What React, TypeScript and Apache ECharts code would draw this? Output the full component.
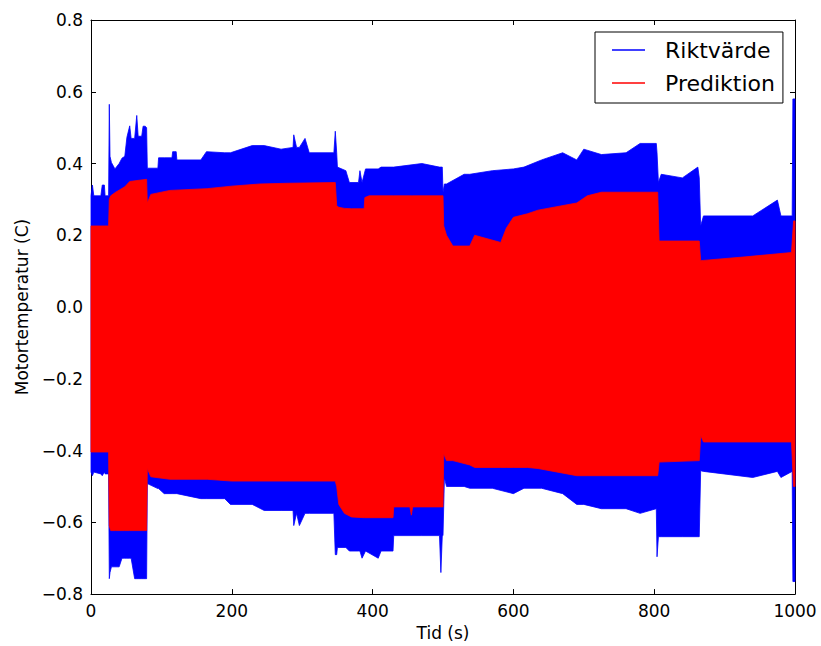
import React, { useEffect, useRef } from "react";
import * as echarts from "echarts";

// Riktvärde (blue) envelope: time, upper, lower
const riktTime = [0, 2, 4, 14, 16, 19, 20, 25, 26, 27, 29, 34, 40, 44, 48, 51, 55, 57, 62, 65, 67, 72, 74, 77, 79, 80, 95, 96, 104, 115, 116, 121, 122, 156, 164, 190, 198, 229, 246, 270, 287, 288, 292, 296, 304, 310, 345, 347, 349, 350, 362, 367, 380, 382, 385, 390, 408, 412, 429, 430, 470, 495, 497, 499, 500, 502, 505, 530, 538, 570, 600, 615, 640, 670, 690, 700, 725, 760, 780, 803, 804, 806, 810, 840, 862, 864, 866, 870, 940, 975, 980, 996, 997, 1000];
const riktHigh = [0.31, 0.34, 0.31, 0.31, 0.34, 0.34, 0.31, 0.31, 0.565, 0.42, 0.403, 0.385, 0.4, 0.415, 0.42, 0.473, 0.505, 0.47, 0.47, 0.534, 0.476, 0.476, 0.504, 0.504, 0.5, 0.387, 0.387, 0.416, 0.416, 0.416, 0.433, 0.433, 0.41, 0.41, 0.433, 0.43, 0.43, 0.45, 0.45, 0.44, 0.445, 0.48, 0.445, 0.445, 0.47, 0.43, 0.43, 0.49, 0.43, 0.39, 0.38, 0.347, 0.347, 0.38, 0.347, 0.385, 0.385, 0.39, 0.39, 0.39, 0.4, 0.39, 0.39, 0.39, 0.32, 0.343, 0.343, 0.37, 0.37, 0.38, 0.385, 0.39, 0.41, 0.43, 0.41, 0.44, 0.425, 0.43, 0.456, 0.456, 0.43, 0.347, 0.37, 0.36, 0.39, 0.36, 0.226, 0.254, 0.254, 0.298, 0.254, 0.254, 0.58, 0.58];
const riktLow = [-0.46, -0.47, -0.46, -0.465, -0.47, -0.46, -0.465, -0.465, -0.757, -0.74, -0.724, -0.724, -0.724, -0.7, -0.7, -0.7, -0.7, -0.7, -0.757, -0.757, -0.757, -0.757, -0.757, -0.757, -0.757, -0.492, -0.506, -0.506, -0.52, -0.52, -0.52, -0.52, -0.52, -0.534, -0.534, -0.534, -0.55, -0.55, -0.567, -0.567, -0.567, -0.609, -0.575, -0.609, -0.575, -0.575, -0.575, -0.69, -0.69, -0.67, -0.67, -0.68, -0.68, -0.68, -0.7, -0.68, -0.7, -0.68, -0.68, -0.637, -0.637, -0.637, -0.74, -0.637, -0.637, -0.476, -0.5, -0.5, -0.505, -0.505, -0.52, -0.505, -0.505, -0.52, -0.55, -0.55, -0.562, -0.562, -0.575, -0.562, -0.696, -0.64, -0.64, -0.64, -0.64, -0.64, -0.456, -0.458, -0.475, -0.458, -0.475, -0.458, -0.765, -0.765];

// Prediktion (red) envelope: time, upper, lower
const predTime = [0, 25, 26, 28, 35, 48, 55, 79, 80, 85, 112, 165, 200, 240, 280, 347, 349, 352, 360, 370, 388, 389, 395, 429, 430, 453, 455, 457, 500, 501, 505, 514, 538, 545, 582, 590, 600, 620, 635, 690, 705, 725, 805, 807, 864, 866, 870, 930, 995, 998, 1000];
const predHigh = [0.226, 0.226, 0.3, 0.31, 0.32, 0.335, 0.35, 0.356, 0.29, 0.314, 0.325, 0.33, 0.337, 0.343, 0.345, 0.347, 0.282, 0.278, 0.275, 0.274, 0.274, 0.305, 0.31, 0.31, 0.31, 0.31, 0.31, 0.31, 0.31, 0.226, 0.2, 0.17, 0.17, 0.2, 0.18, 0.22, 0.25, 0.26, 0.27, 0.29, 0.31, 0.32, 0.32, 0.184, 0.184, 0.129, 0.13, 0.14, 0.152, 0.24, 0.24];
const predLow = [-0.404, -0.404, -0.61, -0.623, -0.623, -0.623, -0.623, -0.623, -0.45, -0.473, -0.48, -0.48, -0.485, -0.485, -0.485, -0.485, -0.5, -0.55, -0.575, -0.585, -0.587, -0.587, -0.587, -0.587, -0.557, -0.557, -0.58, -0.557, -0.557, -0.409, -0.428, -0.428, -0.44, -0.447, -0.447, -0.447, -0.447, -0.447, -0.45, -0.47, -0.47, -0.47, -0.47, -0.432, -0.428, -0.358, -0.376, -0.376, -0.376, -0.5, -0.5];

const xTicks = [0, 200, 400, 600, 800, 1000];
const yMin = -0.8;
const yMax = 0.8;

const FONT = "DejaVu Sans";

function bandSeries(name: string, color: string, time: number[], high: number[], low: number[]) {
  return {
    name,
    type: "custom",
    coordinateSystem: "cartesian2d",
    itemStyle: { color, borderWidth: 0 },
    encode: { x: 0, y: [1, 2] },
    data: time.map((t, i) => [t, low[i], high[i]]),
    renderItem: (params: any, api: any) => {
      if (params.dataIndex !== 0) return null;
      const pts: number[][] = [];
      for (let i = 0; i < time.length; i++) pts.push(api.coord([time[i], high[i]]));
      for (let i = time.length - 1; i >= 0; i--) pts.push(api.coord([time[i], low[i]]));
      return {
        type: "polygon",
        shape: { points: pts },
        style: { fill: color, stroke: color, lineWidth: 0.8 },
      };
    },
  };
}

export default function App() {
  const ref = useRef<HTMLDivElement>(null);
  useEffect(() => {
    if (!ref.current) return;
    const chart = echarts.init(ref.current, null, { renderer: "svg" });
    const axisCommon = {
      type: "value",
      axisLine: { show: true, onZero: false, lineStyle: { color: "#000", width: 1 } },
      axisTick: { show: true, inside: true, length: 5, lineStyle: { color: "#000" } },
      splitLine: { show: false },
    };
    chart.setOption({
      animation: false,
      backgroundColor: "#fff",
      grid: { left: 91, right: 26, top: 20, bottom: 51 },
      legend: {
        left: 595,
        top: 32,
        orient: "vertical",
        icon: "rect",
        itemWidth: 33,
        itemHeight: 1.5,
        itemGap: 11,
        padding: [7, 8, 9, 17],
        borderColor: "#000",
        borderWidth: 1,
        borderRadius: 0,
        backgroundColor: "#fff",
        itemStyle: { borderWidth: 0 },
        textStyle: { fontFamily: FONT, fontSize: 22, color: "#000", padding: [0, 0, 0, 15] },
        data: ["Riktvärde", "Prediktion"],
        z: 10,
      },
      xAxis: [
        {
          ...axisCommon,
          position: "bottom",
          min: 0,
          max: 1000,
          interval: 200,
          name: "Tid (s)",
          nameLocation: "middle",
          nameGap: 29,
          nameTextStyle: { fontFamily: FONT, fontSize: 17, color: "#000" },
          axisLabel: {
            fontFamily: FONT,
            fontSize: 17,
            color: "#000",
            margin: 8,
            customValues: xTicks,
            formatter: (v: number) => String(v),
          },
        },
        {
          ...axisCommon,
          position: "top",
          min: 0,
          max: 1000,
          interval: 200,
          axisLabel: { show: false },
        },
      ],
      yAxis: [
        {
          ...axisCommon,
          position: "left",
          min: yMin,
          max: yMax,
          interval: 0.2,
          name: "Motortemperatur (C)",
          nameLocation: "middle",
          nameGap: 60,
          nameTextStyle: { fontFamily: FONT, fontSize: 17, color: "#000" },
          axisLabel: {
            fontFamily: FONT,
            fontSize: 17,
            color: "#000",
            margin: 8,
            formatter: (v: number) => v.toFixed(1).replace("-", "\u2212"),
          },
        },
        {
          ...axisCommon,
          position: "right",
          min: yMin,
          max: yMax,
          interval: 0.2,
          axisLabel: { show: false },
        },
      ],
      series: [
        bandSeries("Riktvärde", "#0000ff", riktTime, riktHigh, riktLow),
        bandSeries("Prediktion", "#ff0000", predTime, predHigh, predLow),
      ],
    });
    return () => chart.dispose();
  }, []);
  return (
    <div
      ref={ref}
      style={{ position: "fixed", left: 0, top: 0, width: 821, height: 646 }}
    />
  );
}
